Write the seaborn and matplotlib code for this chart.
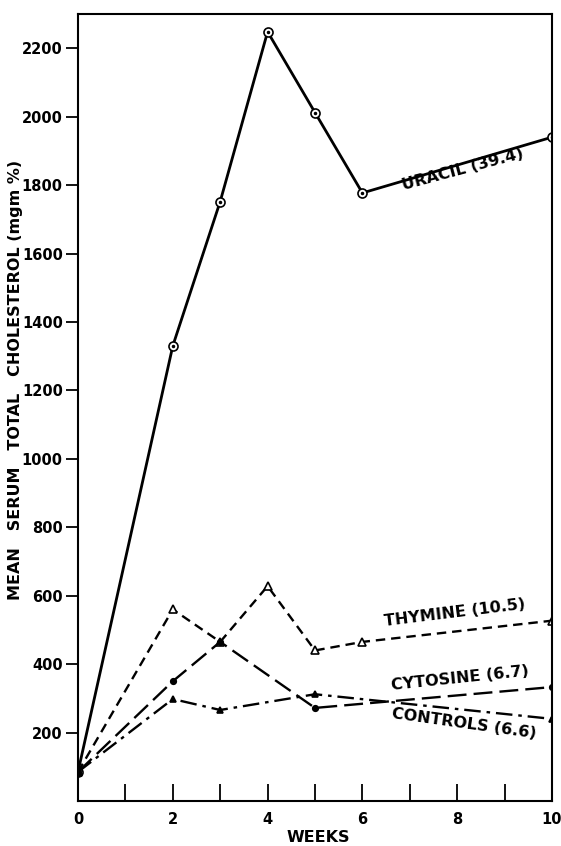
import matplotlib
matplotlib.use("Agg")
import matplotlib.pyplot as plt
import seaborn as sns
import pandas as pd

# Values (weeks vs mean serum total cholesterol, mgm %)
uracil_weeks = [0, 2, 3, 4, 5, 6, 10]
uracil_chol = [85, 1330, 1752, 2248, 2012, 1777, 1940]

thymine_weeks = [0, 2, 3, 4, 5, 6, 10]
thymine_chol = [85, 560, 465, 628, 440, 465, 527]

cytosine_weeks = [0, 2, 3, 5, 10]
cytosine_chol = [85, 350, 465, 272, 333]

controls_weeks = [0, 2, 3, 5, 10]
controls_chol = [85, 298, 266, 312, 240]

series_labels = ["URACIL (39.4)", "THYMINE (10.5)", "CYTOSINE (6.7)", "CONTROLS (6.6)"]

# Label positions (data coords) and angles
label_pos = [(8.12, 1845, 15), (7.95, 550, 7), (8.06, 358, 6), (8.14, 226, -8)]

sns.set_style("ticks")
plt.rcParams['font.family'] = ['DejaVu Sans']
plt.rcParams['font.weight'] = 'bold'
for key in ['text.color', 'axes.labelcolor', 'xtick.color', 'ytick.color', 'axes.edgecolor']:
    plt.rcParams[key] = 'black'

fig = plt.figure(figsize=(5.61, 8.46), dpi=100)
ax = fig.add_axes([78 / 561, 1 - 801 / 846, 474 / 561, 787 / 846])

data = [
    (uracil_weeks, uracil_chol, "-", 2.0, "o", 6.5, "white"),
    (thymine_weeks, thymine_chol, (0, (4, 2.5)), 1.7, "^", 5.5, "white"),
    (cytosine_weeks, cytosine_chol, (0, (8, 3)), 1.7, "o", 4.0, "black"),
    (controls_weeks, controls_chol, (0, (7, 2.5, 1.5, 2.5)), 1.7, "^", 5.0, "black"),
]

for weeks, chol, ls, lw, mk, ms, mfc in data:
    df = pd.DataFrame({"weeks": weeks, "chol": chol})
    sns.lineplot(data=df, x="weeks", y="chol", ax=ax, color="black",
                 linestyle=ls, linewidth=lw, marker=mk, markersize=ms,
                 markerfacecolor=mfc, markeredgecolor="black",
                 markeredgewidth=1.2, estimator=None, sort=False)

# centre dots on the uracil circles
ax.plot(uracil_weeks[1:], uracil_chol[1:], linestyle="none", marker="o",
        markersize=1.5, color="black")

for text, (x, y, rot) in zip(series_labels, label_pos):
    ax.text(x, y, text, rotation=rot, rotation_mode="anchor", ha="center",
            va="center", fontsize=11.5, fontweight="bold")

ax.set_xlim(0, 10)
ax.set_ylim(0, 2300)
ax.set_xticks(range(0, 11))
ax.set_xticklabels([str(i) if i % 2 == 0 else "" for i in range(0, 11)])
ax.set_yticks(range(200, 2201, 200))

ax.tick_params(axis="x", direction="in", length=12, width=1.3, labelsize=10.5, pad=8)
ax.tick_params(axis="y", direction="out", length=9, width=1.3, labelsize=10.5, pad=2)
for lab in ax.get_xticklabels() + ax.get_yticklabels():
    lab.set_fontweight("bold")

for side in ["top", "right", "left", "bottom"]:
    ax.spines[side].set_visible(True)
    ax.spines[side].set_linewidth(1.5)

ax.set_xlabel("WEEKS", fontsize=11.5, fontweight="bold")
ax.set_ylabel("MEAN   SERUM   TOTAL   CHOLESTEROL (mgm %)", fontsize=11.5, fontweight="bold")
ax.xaxis.set_label_coords(0.506, -0.037)
ax.yaxis.set_label_coords(-0.117, 0.535)

fig.savefig("out.png", dpi=100)
